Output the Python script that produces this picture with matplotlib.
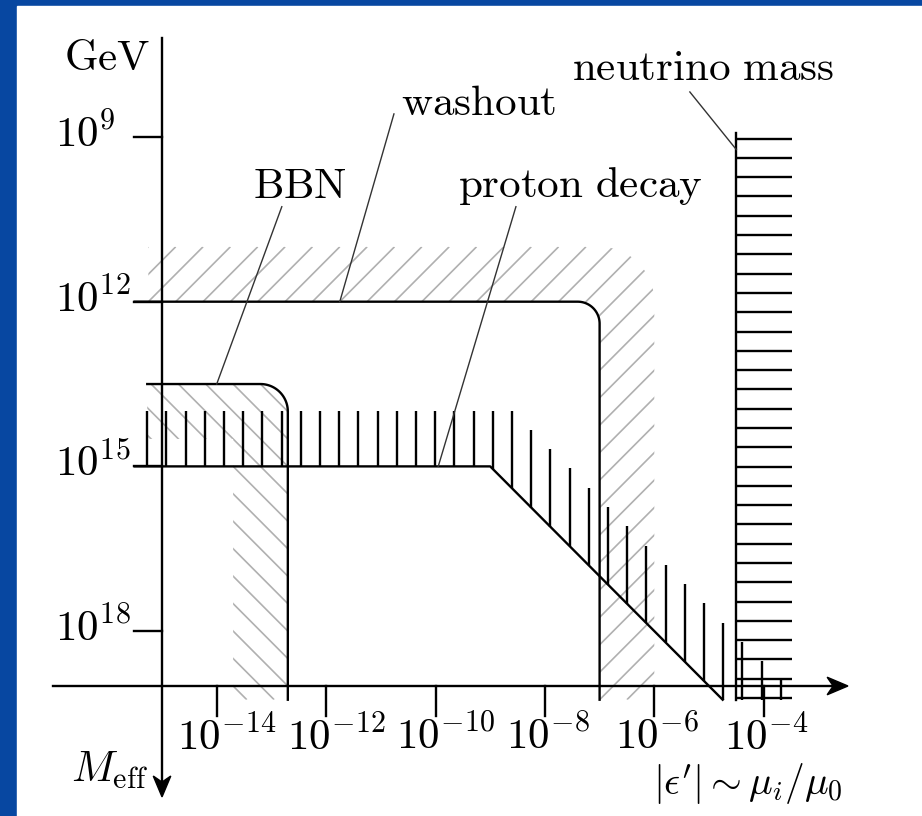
import numpy as np
import matplotlib.pyplot as plt
from matplotlib.patches import Polygon, Rectangle
from matplotlib.collections import LineCollection

plt.rcParams['mathtext.fontset'] = 'cm'

# x = log10 |eps'|, y = log10(M_eff / GeV), drawn downwards
x_ticks = [-14, -12, -10, -8, -6, -4]
x_tick_labels = [r'$10^{-14}$', r'$10^{-12}$', r'$10^{-10}$',
                 r'$10^{-8}$', r'$10^{-6}$', r'$10^{-4}$']
y_ticks = [9, 12, 15, 18]
y_tick_labels = [r'$10^{9}$', r'$10^{12}$', r'$10^{15}$', r'$10^{18}$']

# constraint boundaries
washout_M, washout_eps = 12.0, -7.0
bbn_M, bbn_eps = 13.5, -12.7
proton_M, proton_knee, proton_slope = 15.0, -9.0, 1.0
neutrino_eps, neutrino_top = -4.5, 8.93

# annotations
names = [r'$\mathrm{washout}$', r'$\mathrm{BBN}$',
         r'$\mathrm{proton\ decay}$', r'$\mathrm{neutrino\ mass}$']
name_x = [-9.22, -12.48, -7.36, -5.11]
name_y = [8.6, 10.11, 10.09, 7.96]
leader_start = [(-10.76, 8.58), (-12.81, 10.27), (-8.53, 10.27), (-5.35, 8.18)]
leader_end = [(-11.75, 12.0), (-14.0, 13.5), (-9.95, 15.0), (-4.5, 9.23)]

x0_axis, y0_axis = -15.0, 19.0
floor = 19.25
hatch_col = '#b0b0b0'
lw = 1.7
fs = 31


def arc(cx, cy, r, t0, t1, n=25):
    t = np.linspace(t0, t1, n)
    return list(zip(cx + r * np.cos(t), cy + r * np.sin(t)))


def hatch(ax, verts, direction, step=0.5):
    poly = Polygon(verts, closed=True, fill=False, edgecolor='none')
    ax.add_patch(poly)
    xs = [v[0] for v in verts]
    ys = [v[1] for v in verts]
    xa, xb, ya, yb = min(xs), max(xs), min(ys), max(ys)
    segs = []
    if direction == '/':
        for c in np.arange(xa + ya, xb + yb + step, step):
            segs.append([(c - ya, ya), (c - yb, yb)])
    else:
        for c in np.arange(ya - xb, yb - xa + step, step):
            segs.append([(ya - c, ya), (yb - c, yb)])
    lc = LineCollection(segs, colors=hatch_col, linewidths=1.2)
    lc.set_clip_path(poly)
    ax.add_collection(lc)


def proton(x):
    return proton_M + proton_slope * max(0.0, x - proton_knee)


fig = plt.figure(figsize=(9.22, 8.16), dpi=100)
fig.patch.set_facecolor('#0747a1')
fig.add_artist(Rectangle((17 / 922, 0), 1, 1 - 6 / 816,
                         transform=fig.transFigure, color='white', zorder=0))
ax = fig.add_axes([0, 0, 1, 1])
ax.set_xlim(-17.962, -1.106)
ax.set_ylim(21.368, 6.505)
ax.set_axis_off()

# washout
r = 0.4
w_line = [(-15.5, washout_M)] + arc(washout_eps - r, washout_M + r, r, -np.pi / 2, 0) \
    + [(washout_eps, floor)]
hatch(ax, [(-15.25, washout_M)] + arc(washout_eps - r, washout_M + r, r, -np.pi / 2, 0)
      + [(washout_eps, floor), (washout_eps + 1, floor)]
      + arc(washout_eps, washout_M, 1.0, 0, -np.pi / 2) + [(-15.25, washout_M - 1)], '/')
ax.plot(*zip(*w_line), color='black', lw=lw)

# BBN
r = 0.5
b_line = [(-15.27, bbn_M)] + arc(bbn_eps - r, bbn_M + r, r, -np.pi / 2, 0) \
    + [(bbn_eps, floor)]
hatch(ax, b_line + [(bbn_eps - 1, floor), (bbn_eps - 1, bbn_M + 1), (-15.27, bbn_M + 1)], '\\')
ax.plot(*zip(*b_line), color='black', lw=lw)

# proton decay
p_end = proton_knee + (floor - proton_M) / proton_slope
ax.plot([-15.5, proton_knee, p_end], [proton_M, proton_M, floor], color='black', lw=lw)
off = np.sqrt(1 + proton_slope ** 2)
segs = []
for x in np.arange(-15.27, -3.2, 0.351):
    bot = min(proton(x), floor)
    top = max(proton_M - 1, proton(x) - off)
    if top < bot:
        segs.append([(x, bot), (x, top)])
ax.add_collection(LineCollection(segs, colors='black', linewidths=lw))

# neutrino mass
ax.plot([neutrino_eps, neutrino_eps], [neutrino_top, floor], color='black', lw=lw)
segs = [[(neutrino_eps, y), (neutrino_eps + 1.01, y)]
        for y in 19.22 - 0.3514 * np.arange(30)]
ax.add_collection(LineCollection(segs, colors='black', linewidths=lw))

# axes with arrows
ax.plot([-17.0, -2.6], [y0_axis, y0_axis], color='black', lw=lw)
ax.plot([x0_axis, x0_axis], [7.2, 20.9], color='black', lw=lw)
hl, hw, ins = 0.38, 0.16, 0.27
tip = -2.46
ax.add_patch(Polygon([(tip, y0_axis), (tip - hl, y0_axis - hw), (tip - ins, y0_axis),
                      (tip - hl, y0_axis + hw)], color='black'))
tip = 21.02
ax.add_patch(Polygon([(x0_axis, tip), (x0_axis - hw, tip - hl), (x0_axis, tip - ins),
                      (x0_axis + hw, tip - hl)], color='black'))

for t, lab in zip(x_ticks, x_tick_labels):
    ax.plot([t, t], [y0_axis, 19.55], color='black', lw=lw)
    ax.text(t - 0.72, 20.15, lab, fontsize=fs, ha='left', va='baseline')
for t, lab in zip(y_ticks, y_tick_labels):
    ax.plot([-15.51, x0_axis], [t, t], color='black', lw=lw)
    ax.text(-16.96, t + 0.18, lab, fontsize=fs, ha='left', va='baseline')

ax.text(-15.22, 7.78, r'$\mathrm{GeV}$', fontsize=fs, ha='right', va='baseline')
ax.text(-15.26, 20.75, r'$M_{\mathrm{eff}}$', fontsize=fs, ha='right', va='baseline')
ax.text(-4.29, 20.98, r"$|\epsilon'| \sim \mu_i/\mu_0$", fontsize=28.5,
        ha='center', va='baseline')

for name, tx, ty, (sx, sy), (ex, ey) in zip(names, name_x, name_y, leader_start, leader_end):
    ax.text(tx, ty, name, fontsize=fs, ha='center', va='baseline')
    ax.plot([sx, ex], [sy, ey], color='#333333', lw=1.0)

fig.savefig('out.png', dpi=100)
